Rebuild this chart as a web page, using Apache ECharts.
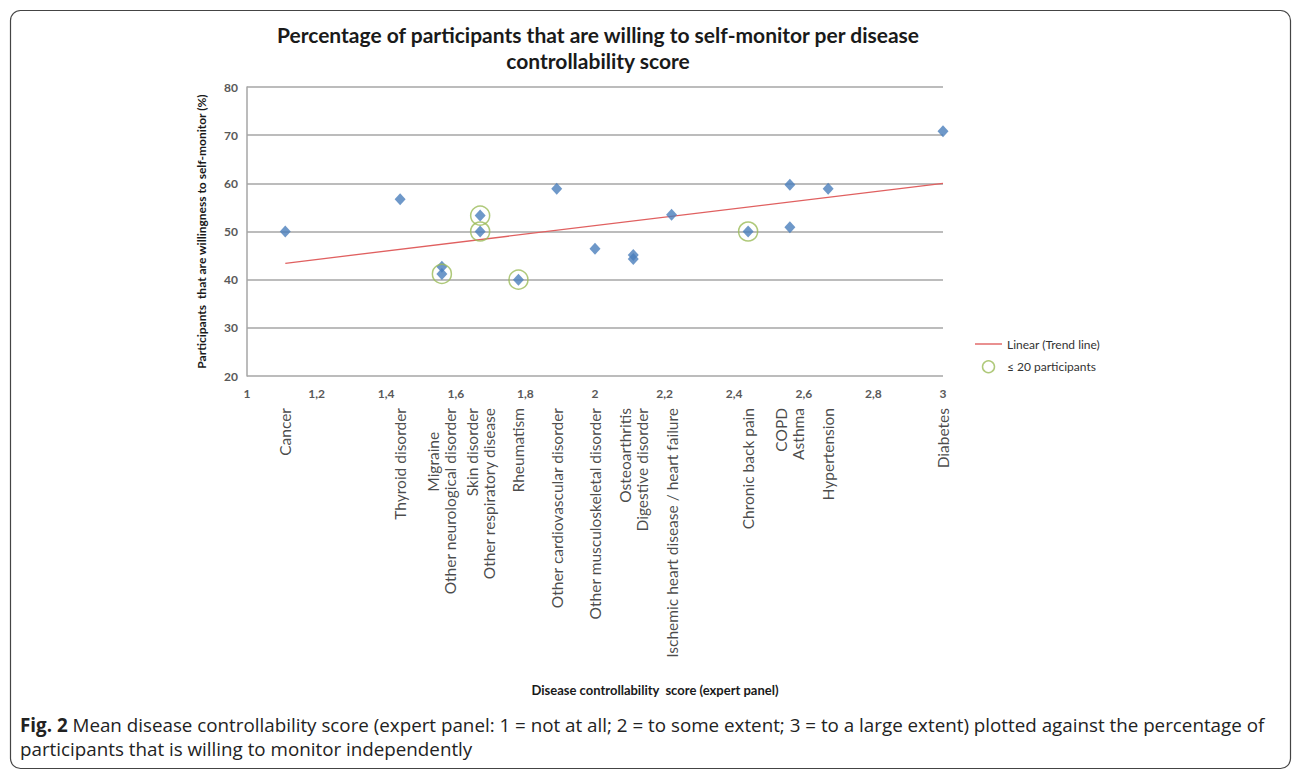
<!DOCTYPE html>
<html>
<head>
<meta charset="utf-8">
<script src="https://cdn.jsdelivr.net/npm/echarts@6/dist/echarts.min.js"></script>
<style>
html,body{margin:0;padding:0;background:#fff;}
#chart{width:1292px;height:770px;}
</style>
</head>
<body>
<div id="chart"></div>
<script>
// ---- data ----
const categories = ['Cancer','Thyroid disorder','Migraine','Other neurological disorder','Skin disorder','Other respiratory disease','Rheumatism','Other cardiovascular disorder','Other musculoskeletal disorder','Osteoarthritis','Digestive disorder','Ischemic heart disease / heart failure','Chronic back pain','COPD','Asthma','Hypertension','Diabetes'];
const controllability = [1.11,1.44,1.56,1.56,1.67,1.67,1.78,1.89,2.00,2.11,2.11,2.22,2.44,2.56,2.56,2.67,3.00];
const willingPct = [50.0,56.7,42.7,41.2,53.3,50.0,40.0,58.9,46.4,45.1,44.3,53.5,50.0,59.7,50.9,58.9,70.8];
const smallSample = [false,false,false,true,true,true,true,false,false,false,false,false,true,false,false,false,false];
const trendX = [1.11,3.00];
const trendY = [43.4,60.0];
const xTicks = ['1','1,2','1,4','1,6','1,8','2','2,2','2,4','2,6','2,8','3'];
const yTicks = ['20','30','40','50','60','70','80'];

const titleText = 'Percentage of participants that are willing to self-monitor per disease\ncontrollability score';
const yName = 'Participants  that are willingness to self-monitor (%)';
const xName = 'Disease controllability  score (expert panel)';
const trendName = 'Linear (Trend line)';
const smallName = '\u2264 20 participants';
const captionBold = 'Fig. 2';
const captionLine1 = ' Mean disease controllability score (expert panel: 1 = not at all; 2 = to some extent; 3 = to a large extent) plotted against the percentage of';
const captionLine2 = 'participants that is willing to monitor independently';

// ---- build series data ----
const points = controllability.map((x, i) => [x, willingPct[i]]);
const circled = points.filter((p, i) => smallSample[i]);
const trend = trendX.map((x, i) => [x, trendY[i]]);
// category labels grouped by x position
const labelGroups = [];
controllability.forEach((x, i) => {
  const g = labelGroups.find(g => g.x === x);
  if (g) g.names.push(categories[i]); else labelGroups.push({x: x, names: [categories[i]]});
});
const labelData = labelGroups.map(g => ({
  value: [g.x, 1],
  name: g.names.map(n => n === 'Migraine' ? n + '\u00a0\u00a0\u00a0\u00a0\u00a0\u00a0' : n).join('\n')
}));

const FONT = 'Lato, "Open Sans", sans-serif';
const chart = echarts.init(document.getElementById('chart'), null, {renderer: 'svg'});
chart.setOption({
  backgroundColor: '#fff',
  animation: false,
  title: {
    text: titleText,
    left: 593, top: 16, textAlign: 'center',
    textStyle: {fontFamily: FONT, fontSize: 21, fontWeight: 'bold', color: '#1a1a1a', lineHeight: 26}
  },
  legend: {
    orient: 'vertical', left: 970, top: 333, itemWidth: 27, itemHeight: 12, itemGap: 10,
    textStyle: {fontFamily: FONT, fontSize: 12, color: '#333'},
    data: [
      {name: trendName, icon: 'path://M0,0H27V1.4H0Z', itemStyle: {color: '#e06060'}},
      {name: smallName, icon: 'circle', itemStyle: {color: 'transparent', borderColor: '#9bbb59', borderWidth: 1.5}}
    ]
  },
  grid: [
    {left: 247, right: 349, top: 87, bottom: 394},
    {left: 247, right: 349, top: 408, height: 10}
  ],
  xAxis: [{
    type: 'value', min: 1, max: 3, interval: 0.2, gridIndex: 0,
    name: xName, nameLocation: 'middle', nameGap: 307,
    nameTextStyle: {fontFamily: FONT, fontSize: 13, fontWeight: 'bold', color: '#1a1a1a', padding: [0, 0, 0, 120]},
    axisLine: {show: false}, axisTick: {show: false}, splitLine: {show: false},
    axisLabel: {
      margin: 11, fontFamily: FONT, fontSize: 12, fontWeight: 'bold', color: '#595959',
      formatter: (v) => xTicks[Math.round((v - 1) / 0.2)]
    }
  }, {
    type: 'value', min: 1, max: 3, gridIndex: 1, show: false
  }],
  yAxis: [{
    type: 'value', min: 20, max: 80, interval: 10, gridIndex: 0,
    name: yName, nameLocation: 'middle', nameGap: 40, nameRotate: 90,
    nameTextStyle: {fontFamily: FONT, fontSize: 12, fontWeight: 'bold', color: '#1a1a1a'},
    axisLine: {show: true, lineStyle: {color: '#a6a6a6', width: 1.5}},
    axisTick: {show: false},
    splitLine: {lineStyle: {color: '#a6a6a6', width: 1.5}},
    axisLabel: {
      margin: 9, fontFamily: FONT, fontSize: 12, fontWeight: 'bold', color: '#595959',
      formatter: (v) => yTicks[Math.round((v - 20) / 10)]
    }
  }, {
    type: 'value', min: 0, max: 1, gridIndex: 1, show: false
  }],
  series: [
    {
      name: trendName, type: 'line', data: trend, showSymbol: false, symbol: 'none',
      lineStyle: {color: '#e06060', width: 1.3}, itemStyle: {color: '#e06060'}, z: 2
    },
    {
      name: 'Diseases', type: 'scatter', data: points, symbol: 'diamond', symbolSize: [11, 12],
      itemStyle: {color: '#4a7ebb'}, z: 3
    },
    {
      name: smallName, type: 'scatter', data: circled, symbol: 'circle', symbolSize: 19,
      itemStyle: {color: 'transparent', borderColor: '#9bbb59', borderWidth: 1.5}, z: 4
    },
    {
      name: 'Category labels', type: 'scatter', xAxisIndex: 1, yAxisIndex: 1, data: labelData,
      symbolSize: 1, itemStyle: {color: 'transparent'}, silent: true,
      label: {
        show: true, position: 'inside', rotate: 90, align: 'right', verticalAlign: 'middle',
        formatter: (p) => p.name,
        fontFamily: FONT, fontSize: 15.5, lineHeight: 17, color: '#1a1a1a'
      }
    }
  ],
  graphic: [
    {
      type: 'rect', left: 8, top: 8, silent: true,
      shape: {width: 1280, height: 758, r: 10},
      style: {fill: 'none', stroke: '#444', lineWidth: 1.2}
    },
    {
      type: 'text', left: 20, top: 713, silent: true,
      style: {
        text: '{b|' + captionBold + '}' + captionLine1 + '\n' + captionLine2,
        fontFamily: '"Open Sans", sans-serif', fontSize: 18.8, lineHeight: 24, fill: '#222',
        rich: {b: {fontFamily: '"Open Sans", sans-serif', fontWeight: 'bold', fontSize: 18.8, fill: '#222'}}
      }
    }
  ]
});
</script>
</body>
</html>
